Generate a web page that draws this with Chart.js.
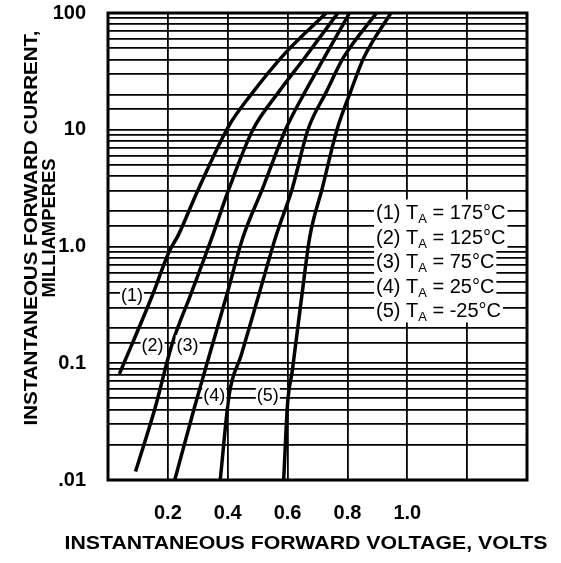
<!DOCTYPE html>
<html>
<head>
<meta charset="utf-8">
<script src="https://cdn.jsdelivr.net/npm/chart.js@4.4.1/dist/chart.umd.min.js"></script>
<style>
html,body{margin:0;padding:0;background:#fff;}
canvas{display:block;}
</style>
</head>
<body>
<canvas id="c" width="561" height="563"></canvas>
<script>
// ---- data ----
const voltTickLabels = ['0.2','0.4','0.6','0.8','1.0'];
const currentTickValues = [100, 10, 1, 0.1, 0.01];
const currentTickLabels = ['100', '10', '1.0', '0.1', '.01'];

const seriesNumbers = ['(1)', '(2)', '(3)', '(4)', '(5)'];
const seriesTemps = ['175°C', '125°C', '75°C', '25°C', '-25°C'];

// forward voltage (V) and forward current (mA)
const c1V = [0.038, 0.149, 0.203, 0.236, 0.296, 0.402, 0.478, 0.593, 0.729];
const c1I = [0.081, 0.386, 0.89, 1.27, 2.86, 10.6, 20, 45.6, 100];

const c2V = [0.092, 0.158, 0.213, 0.276, 0.345, 0.405, 0.484, 0.570, 0.658, 0.768];
const c2I = [0.0118, 0.042, 0.143, 0.386, 1.15, 3.16, 10, 21, 41.6, 100];

const c3V = [0.223, 0.289, 0.329, 0.397, 0.451, 0.517, 0.593, 0.658, 0.723, 0.807];
const c3I = [0.01, 0.042, 0.096, 0.386, 1.2, 3.16, 10, 21, 41.6, 100];

const c4V = [0.375, 0.405, 0.445, 0.504, 0.560, 0.616, 0.668, 0.729, 0.787, 0.897];
const c4I = [0.01, 0.054, 0.117, 0.386, 1.2, 3.16, 10, 21, 41.6, 100];

const c5V = [0.587, 0.600, 0.616, 0.648, 0.674, 0.716, 0.765, 0.810, 0.855, 0.945];
const c5I = [0.01, 0.045, 0.087, 0.386, 1.2, 3.16, 10, 21, 41.6, 100];

// curve label anchors (V, mA)
const curveLabelV = [0.080, 0.149, 0.266, 0.355, 0.534];
const curveLabelI = [0.386, 0.143, 0.143, 0.053, 0.053];

const xTitle = 'INSTANTANEOUS FORWARD VOLTAGE, VOLTS';
const yTitle1 = 'INSTANTANEOUS FORWARD CURRENT,';
const yTitle2 = 'MILLIAMPERES';

// ---- chart ----
const FONT = '"Liberation Sans", Arial, Helvetica, sans-serif';
function pts(v, i) { return v.map((x, k) => ({x: x, y: i[k]})); }
const curves = [[c1V, c1I], [c2V, c2I], [c3V, c3I], [c4V, c4I], [c5V, c5I]];

function isPow10(v) {
  const l = Math.log10(v);
  return Math.abs(l - Math.round(l)) < 1e-6;
}

function drawStretched(ctx, text, cx, cy, targetW, rotate) {
  ctx.save();
  ctx.translate(cx, cy);
  if (rotate) ctx.rotate(-Math.PI / 2);
  const w = ctx.measureText(text).width;
  ctx.scale(targetW / w, 1);
  ctx.textAlign = 'center';
  ctx.textBaseline = 'middle';
  ctx.fillText(text, 0, 0);
  ctx.restore();
}

const annot = {
  id: 'annot',
  afterDraw(chart) {
    const ctx = chart.ctx, xs = chart.scales.x, ys = chart.scales.y, a = chart.chartArea;
    ctx.save();
    // curve labels
    ctx.font = '18px ' + FONT;
    ctx.textAlign = 'center';
    ctx.textBaseline = 'middle';
    seriesNumbers.forEach((t, i) => {
      const px = xs.getPixelForValue(curveLabelV[i]);
      const py = ys.getPixelForValue(curveLabelI[i]);
      const w = ctx.measureText(t).width;
      ctx.fillStyle = '#fff';
      ctx.fillRect(px - w / 2 - 1, py - 10, w + 2, 21);
      ctx.fillStyle = '#000';
      ctx.fillText(t, px, py + 1);
    });
    // legend
    const x0 = 376, y0 = 212, dy = 24.5;
    const big = '20px ' + FONT, small = '13px ' + FONT;
    ctx.textAlign = 'left';
    ctx.textBaseline = 'alphabetic';
    seriesNumbers.forEach((n, i) => {
      const y = y0 + i * dy;
      const pre = n + ' T', sub = 'A', post = ' = ' + seriesTemps[i];
      ctx.font = big; const w1 = ctx.measureText(pre).width;
      ctx.font = small; const w2 = ctx.measureText(sub).width;
      ctx.font = big; const w3 = ctx.measureText(post).width;
      ctx.fillStyle = '#fff';
      ctx.fillRect(x0 - 2, y - 12.5, w1 + w2 + w3 + 4, dy + 0.5);
      ctx.fillStyle = '#000';
      ctx.font = big; ctx.fillText(pre, x0, y + 7);
      ctx.font = small; ctx.fillText(sub, x0 + w1, y + 11);
      ctx.font = big; ctx.fillText(post, x0 + w1 + w2, y + 7);
    });
    // frame
    ctx.lineWidth = 3;
    ctx.strokeStyle = '#000';
    ctx.strokeRect(a.left, a.top, a.right - a.left, a.bottom - a.top);
    // axis titles
    ctx.fillStyle = '#000';
    ctx.font = 'bold 18px ' + FONT;
    drawStretched(ctx, xTitle, 306, 544, 483, false);
    drawStretched(ctx, yTitle1, 32, 228, 395, true);
    drawStretched(ctx, yTitle2, 50, 228, 139, true);
    ctx.restore();
  }
};

new Chart(document.getElementById('c'), {
  type: 'line',
  data: {
    datasets: curves.map((c, k) => ({
      label: seriesNumbers[k] + ' TA = ' + seriesTemps[k],
      data: pts(c[0], c[1]),
      borderColor: '#000',
      borderWidth: 3.5,
      pointRadius: 0,
      fill: false,
      cubicInterpolationMode: 'monotone'
    }))
  },
  options: {
    responsive: false,
    devicePixelRatio: 1,
    animation: false,
    layout: { autoPadding: false, padding: { left: 0, top: 13, right: 34, bottom: 0 } },
    plugins: { legend: { display: false }, title: { display: false }, tooltip: { enabled: false } },
    scales: {
      x: {
        type: 'linear',
        min: 0, max: 1.4,
        border: { display: false },
        grid: { color: '#000', lineWidth: 1.8, drawTicks: false },
        ticks: {
          stepSize: 0.2,
          autoSkip: false,
          maxRotation: 0,
          padding: 21,
          color: '#000',
          font: { family: FONT, size: 20, weight: 'bold' },
          callback: (v) => {
            const s = Number(v).toFixed(1);
            return voltTickLabels.includes(s) ? s : '';
          }
        },
        afterFit: (s) => { s.height = 83; }
      },
      y: {
        type: 'logarithmic',
        min: 0.01, max: 100,
        border: { display: false },
        grid: { color: '#000', lineWidth: 1.8, drawTicks: false },
        ticks: {
          autoSkip: false,
          padding: 22,
          color: '#000',
          font: { family: FONT, size: 20, weight: 'bold' },
          callback: (v) => {
            if (!isPow10(v)) return '';
            const k = currentTickValues.findIndex(t => Math.abs(Math.log10(t) - Math.log10(v)) < 1e-6);
            return k >= 0 ? currentTickLabels[k] : '';
          }
        },
        afterFit: (s) => { s.width = 108; s.paddingTop = 0; s.paddingBottom = 0; }
      }
    }
  },
  plugins: [annot, {
    id: 'forceArea',
    afterLayout(chart) {
      // report nothing; layout verified visually
    }
  }]
});
</script>
</body>
</html>
